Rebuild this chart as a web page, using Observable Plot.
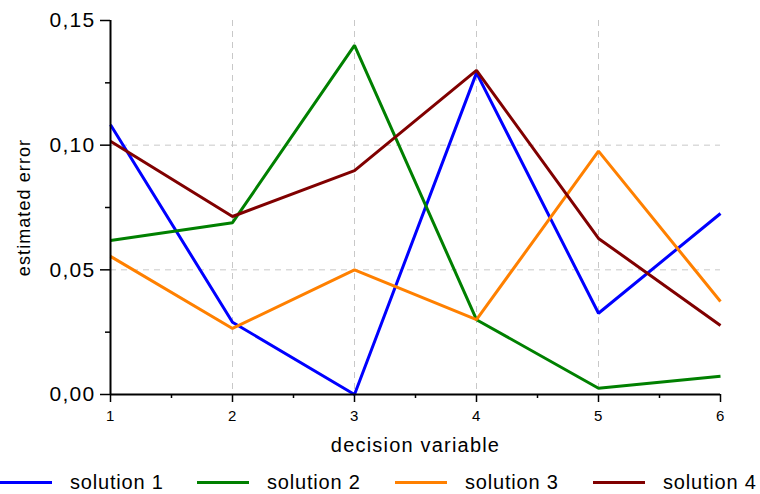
<!DOCTYPE html>
<html>
<head>
<meta charset="utf-8">
<script src="https://cdn.jsdelivr.net/npm/d3@7"></script>
<script src="https://cdn.jsdelivr.net/npm/@observablehq/plot@0.6"></script>
<style>
  html, body { margin: 0; padding: 0; background: #fff; }
  body { width: 760px; height: 494px; overflow: hidden; position: relative; font-family: "Liberation Sans", Arial, sans-serif; }
  #legend { position: absolute; left: 0; top: 471px; height: 22px; width: 760px; }
  .item { position: absolute; top: 0; height: 22px; display: flex; align-items: center; font-size: 20px; line-height: 22px; letter-spacing: 0.04em; color: #000; white-space: nowrap; }
  .swatch { width: 52px; height: 3px; margin-right: 18px; }
</style>
</head>
<body>
<div id="chart"></div>
<div id="legend"></div>
<script>
const decisionVariables = [1, 2, 3, 4, 5, 6];
const seriesNames = ["solution 1", "solution 2", "solution 3", "solution 4"];
const seriesColors = ["#0000ff", "#008000", "#ff8000", "#800000"];
const solution1 = [0.1082, 0.0290, 0.0000, 0.1290, 0.0326, 0.0726];
const solution2 = [0.0618, 0.0689, 0.1400, 0.0300, 0.0025, 0.0073];
const solution3 = [0.0554, 0.0265, 0.0500, 0.0300, 0.0976, 0.0373];
const solution4 = [0.1016, 0.0714, 0.0898, 0.1300, 0.0626, 0.0277];
const yTicks = [0, 0.05, 0.10, 0.15];
const yMinorTicks = [0.025, 0.075, 0.125];
const xMinorTicks = [1.5, 2.5, 3.5, 4.5, 5.5];
const xGrid = [2, 3, 4, 5];
const yGrid = [0.05, 0.10];
const xLabel = "decision variable";
const yLabel = "estimated error";

const allSeries = [solution1, solution2, solution3, solution4];
const data = [];
allSeries.forEach((vals, i) => vals.forEach((v, j) => data.push({x: decisionVariables[j], y: v, s: seriesNames[i]})));

const fmt = v => v.toFixed(2).replace(".", ",");

const plot = Plot.plot({
  width: 760,
  height: 462,
  marginLeft: 110,
  marginRight: 40,
  marginTop: 20,
  marginBottom: 68,
  style: {fontFamily: "Liberation Sans, Arial, sans-serif", color: "#000", background: "#fff", overflow: "visible"},
  x: {domain: [1, 6]},
  y: {domain: [0, 0.15]},
  color: {domain: seriesNames, range: seriesColors},
  marks: [
    Plot.gridX(xGrid, {stroke: "#c8c8c8", strokeOpacity: 1, strokeDasharray: "6,5"}),
    Plot.gridY(yGrid, {stroke: "#c8c8c8", strokeOpacity: 1, strokeDasharray: "6,5"}),
    Plot.axisY(yTicks, {tickSize: 10, tickPadding: 5, tickFormat: fmt, fontSize: 21, label: null, strokeWidth: 1.5}),
    Plot.axisY(yMinorTicks, {tickSize: 5, tickFormat: () => "", label: null, strokeWidth: 1.5}),
    Plot.axisX(decisionVariables, {tickSize: 8, tickPadding: 8, tickFormat: d => String(d), fontSize: 15, label: null, strokeWidth: 1.5}),
    Plot.axisX(xMinorTicks, {tickSize: 4, tickFormat: () => "", label: null, strokeWidth: 1.5}),
    Plot.line(data, {x: "x", y: "y", stroke: "s", z: "s", strokeWidth: 3, strokeLinejoin: "miter", strokeLinecap: "butt"}),
    Plot.ruleX([1], {y1: 0, y2: 0.15, stroke: "#000", strokeWidth: 2}),
    Plot.ruleY([0], {x1: 1, x2: 6, stroke: "#000", strokeWidth: 2}),
    Plot.text([xLabel], {frameAnchor: "bottom", lineAnchor: "middle", textAnchor: "middle", dy: 51, fontSize: 20}),
    Plot.text([yLabel], {frameAnchor: "left", lineAnchor: "middle", textAnchor: "middle", rotate: -90, dx: -86, fontSize: 18})
  ]
});
document.getElementById("chart").appendChild(plot);

// enforce font sizes and tracking
d3.select(plot).selectAll("text").each(function() {
  const t = this.textContent;
  const al = this.parentNode.getAttribute("aria-label") || "";
  let size = null;
  if (t === xLabel) size = 20;
  else if (t === yLabel) size = 18;
  else if (al.includes("y-axis")) size = 21;
  else if (al.includes("x-axis")) size = 15;
  if (size) {
    this.style.fontSize = size + "px";
    this.style.letterSpacing = "0.06em";
  }
});

const legend = document.getElementById("legend");
const legendLeft = [0, 197, 395, 593];
seriesNames.forEach((name, i) => {
  const item = document.createElement("div");
  item.className = "item";
  item.style.left = legendLeft[i] + "px";
  const sw = document.createElement("span");
  sw.className = "swatch";
  sw.style.background = seriesColors[i];
  const t = document.createElement("span");
  t.textContent = name;
  item.appendChild(sw);
  item.appendChild(t);
  legend.appendChild(item);
});
</script>
</body>
</html>
